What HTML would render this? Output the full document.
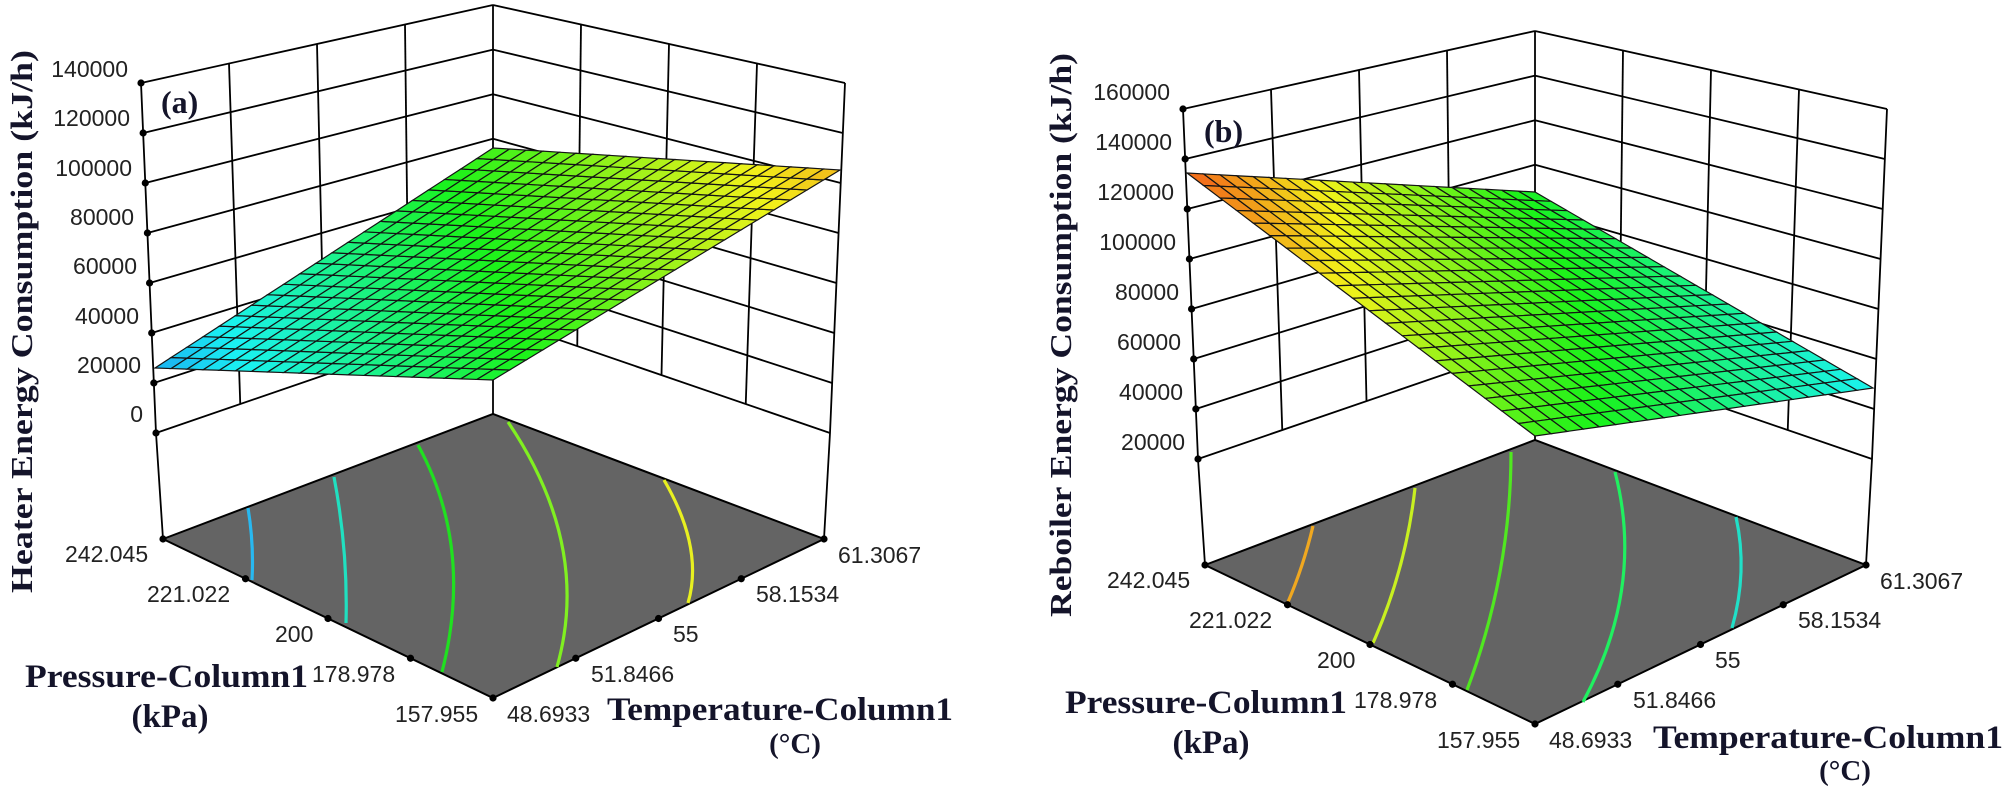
<!DOCTYPE html>
<html><head><meta charset="utf-8"><style>
html,body{margin:0;padding:0;background:#fff;}
svg{display:block;}
.t{font-family:"Liberation Sans",sans-serif;font-size:23px;fill:#222;}
.h{font-family:"Liberation Serif",serif;font-weight:bold;fill:#14142a;}
</style></head><body>
<svg id="s" width="2008" height="796" viewBox="0 0 2008 796" xmlns="http://www.w3.org/2000/svg">
<rect width="2008" height="796" fill="#fff"/>
<g id="g"></g>
<g class="t" text-anchor="end">
<text x="128" y="77">140000</text><text x="130" y="126">120000</text><text x="132" y="176">100000</text><text x="134" y="225">80000</text><text x="137" y="274">60000</text><text x="139" y="324">40000</text><text x="141" y="373">20000</text><text x="143" y="422">0</text>
<text x="1170" y="100">160000</text><text x="1172" y="150">140000</text><text x="1174" y="200">120000</text><text x="1176" y="250">100000</text><text x="1179" y="300">80000</text><text x="1181" y="350">60000</text><text x="1183" y="400">40000</text><text x="1185" y="450">20000</text>
</g>
<g class="t">
<text x="65" y="562">242.045</text><text x="147" y="602">221.022</text><text x="275" y="642">200</text><text x="312" y="682">178.978</text><text x="395" y="722">157.955</text>
<text x="507" y="722">48.6933</text><text x="591" y="682">51.8466</text><text x="673" y="642">55</text><text x="756" y="602">58.1534</text><text x="838" y="563">61.3067</text>
<text x="1107" y="588">242.045</text><text x="1189" y="628">221.022</text><text x="1317" y="668">200</text><text x="1354" y="708">178.978</text><text x="1437" y="748">157.955</text>
<text x="1549" y="748">48.6933</text><text x="1633" y="708">51.8466</text><text x="1715" y="668">55</text><text x="1798" y="628">58.1534</text><text x="1880" y="589">61.3067</text>
</g>
<g class="h" font-size="33">
<text x="25" y="687" textLength="283" lengthAdjust="spacingAndGlyphs">Pressure-Column1</text>
<text x="170" y="727" text-anchor="middle">(kPa)</text>
<text x="607" y="720" textLength="346" lengthAdjust="spacingAndGlyphs">Temperature-Column1</text>
<text x="795" y="753" text-anchor="middle" font-size="29">(°C)</text>
<text x="1065" y="713" textLength="282" lengthAdjust="spacingAndGlyphs">Pressure-Column1</text>
<text x="1211" y="753" text-anchor="middle">(kPa)</text>
<text x="1653" y="748" textLength="350" lengthAdjust="spacingAndGlyphs">Temperature-Column1</text>
<text x="1845" y="780" text-anchor="middle" font-size="29">(°C)</text>
<text transform="translate(32,593) rotate(-90)" textLength="543" lengthAdjust="spacingAndGlyphs" font-size="31">Heater Energy Consumption (kJ/h)</text>
<text transform="translate(1071,617) rotate(-90)" textLength="564" lengthAdjust="spacingAndGlyphs" font-size="31">Reboiler Energy Consumption (kJ/h)</text>
<text x="161" y="113" font-size="32">(a)</text>
<text x="1204" y="142" font-size="32">(b)</text>
</g>
</svg>
<script>
(function(){
var g=document.getElementById("g"),out="";
function ln(a,b,c,d,w,col){out+='<line x1="'+a+'" y1="'+b+'" x2="'+c+'" y2="'+d+'" stroke="'+(col||"#000")+'" stroke-width="'+(w||1.8)+'"/>';}
function dot(x,y){out+='<circle cx="'+x+'" cy="'+y+'" r="3.6" fill="#000"/>';}
function cmap(t){t=Math.max(0,Math.min(1,t));var s=[[0,0,255],[0,255,255],[0,255,0],[255,255,0],[255,0,0]];var f=t*4,i=Math.min(3,Math.floor(f)),r=f-i;var c=[0,1,2].map(function(j){return s[i][j]*(1-r)+s[i+1][j]*r;});
 return "rgb("+c.map(function(v){return Math.round(v*0.85+255*0.1);}).join(",")+")";}
function walls(dx,dy){
 var X=function(x){return x+dx},Y=function(y){return y+dy};
 out+='<polyline points="'+X(141)+','+Y(83)+' '+X(156)+','+Y(433)+' '+X(163)+','+Y(539)+'" fill="none" stroke="#000" stroke-width="1.8"/>';
 ln(X(493),Y(5),X(493),Y(414));
 out+='<polyline points="'+X(845)+','+Y(83)+' '+X(830)+','+Y(433)+' '+X(824)+','+Y(539)+'" fill="none" stroke="#000" stroke-width="1.8"/>';
 for(var k=0;k<8;k++){var lx=141+15*k/7,ly=83+50*k,by=5+44.6*k;
  ln(X(lx),Y(ly),X(493),Y(by));ln(X(986-lx),Y(ly),X(493),Y(by));}
 for(var i=1;i<4;i++){var tx=141+88*i,ty=83+(tx-141)*(5-83)/352,bx=156+84.25*i,byy=433+(bx-156)*(317-433)/337;
  ln(X(tx),Y(ty),X(bx),Y(byy));ln(X(986-tx),Y(ty),X(986-bx),Y(byy));}
 out+='<polygon points="'+X(163)+','+Y(539)+' '+X(493)+','+Y(414)+' '+X(824)+','+Y(539)+' '+X(493)+','+Y(698)+'" fill="#646464" stroke="#000" stroke-width="2"/>';
}
function dots(dx,dy){
 for(var k=0;k<8;k++)dot(141+15*k/7+dx,83+50*k+dy);
 dot(163+dx,539+dy);dot(493+dx,698+dy);dot(824+dx,539+dy);
 for(var i=1;i<4;i++){dot(163+330*i/4+dx,539+159*i/4+dy);dot(493+331*i/4+dx,698-159*i/4+dy);}
}
function contour(p0,m,p2,col){var cx=2*m[0]-(p0[0]+p2[0])/2,cy=2*m[1]-(p0[1]+p2[1])/2;
 out+='<path d="M'+p0[0]+','+p0[1]+' Q'+cx+','+cy+' '+p2[0]+','+p2[1]+'" fill="none" stroke="'+col+'" stroke-width="3.2"/>';}
function surf(L,F,B,R,vL,vF,vB,vR,N){
 function P(u,v){return [L[0]*(1-u)*(1-v)+F[0]*u*(1-v)+B[0]*(1-u)*v+R[0]*u*v, L[1]*(1-u)*(1-v)+F[1]*u*(1-v)+B[1]*(1-u)*v+R[1]*u*v];}
 function V(u,v){return vL*(1-u)*(1-v)+vF*u*(1-v)+vB*(1-u)*v+vR*u*v;}
 for(var i=0;i<N;i++)for(var j=0;j<N;j++){var u0=i/N,u1=(i+1)/N,v0=j/N,v1=(j+1)/N;
  var a=P(u0,v0),b=P(u1,v0),c=P(u1,v1),d=P(u0,v1);
  out+='<polygon points="'+a.join(",")+' '+b.join(",")+' '+c.join(",")+' '+d.join(",")+'" fill="'+cmap(V((u0+u1)/2,(v0+v1)/2))+'" stroke="#141414" stroke-width="1.2"/>';}
}
walls(0,0);walls(1042,26);
contour([248,508],[252,544],[252,580],"#28b8f0");
contour([334,477],[344,550],[346,623],"#20e0c0");
contour([418,445],[452,553],[442,672],"#20e020");
contour([508,422],[562,545],[557,667],"#80f020");
contour([664,480],[690,545],[688,603],"#e8f020");
contour([1313,526],[1302,565],[1288,602],"#f0a820");
contour([1415,488],[1400,567],[1373,643],"#c8f020");
contour([1511,452],[1500,572],[1467,690],"#50e820");
contour([1615,472],[1622,587],[1583,702],"#20f060");
contour([1736,517],[1741,572],[1732,628],"#20e0c8");
dots(0,0);dots(1042,26);
surf([155,368],[493,380],[493,148],[840,170],0.17,0.47,0.55,0.82,21);
surf([1187,173],[1535,436],[1535,192],[1873,388],0.92,0.55,0.48,0.25,21);
g.innerHTML=out;
})();
</script>
</body></html>
